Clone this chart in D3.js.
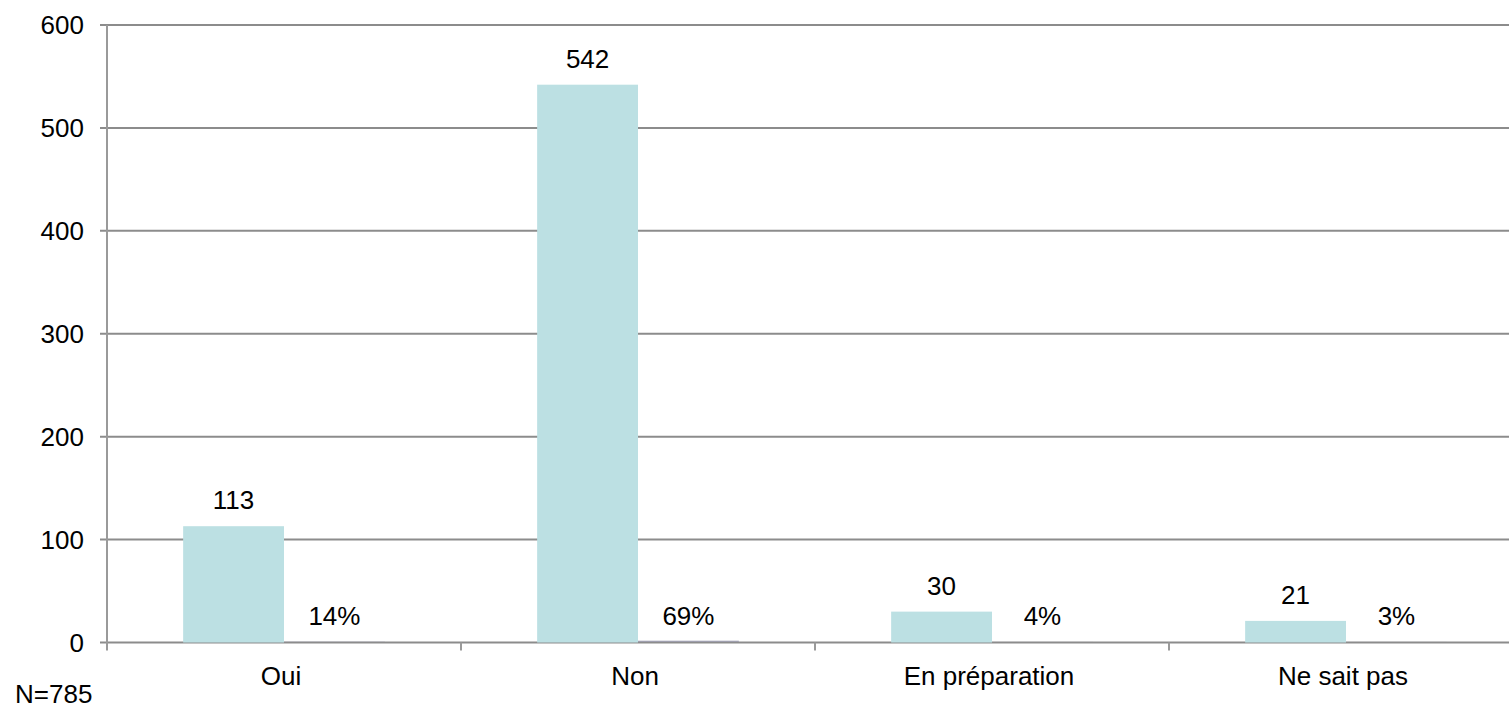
<!DOCTYPE html>
<html>
<head>
<meta charset="utf-8">
<script src="https://cdn.jsdelivr.net/npm/d3@7"></script>
<style>
  body { margin: 0; background: #fff; }
  svg { display: block; font-family: Arial, "Liberation Sans", sans-serif; }
</style>
</head>
<body>
<svg width="1509" height="709"></svg>
<script>
// Data
const categories = ["Oui", "Non", "En préparation", "Ne sait pas"];
const counts = [113, 542, 30, 21];
const shares = [0.14, 0.69, 0.04, 0.03];     // plotted as raw fractions on the count axis
const shareLabels = ["14%", "69%", "4%", "3%"];
const yTicks = [0, 100, 200, 300, 400, 500, 600];
const note = "N=785";

const svg = d3.select("svg");
const plotLeft = 107, plotRight = 1523, plotTop = 25, plotBottom = 642.5;
const fontSize = "26px";

const x = d3.scaleBand()
  .domain(categories)
  .range([plotLeft, plotRight])
  .paddingInner(0)
  .paddingOuter(0);

const sub = d3.scaleBand()
  .domain(["count", "share"])
  .range([0, x.bandwidth()])
  .paddingOuter(0.755)
  .paddingInner(0);

const y = d3.scaleLinear().domain([0, 600]).range([plotBottom, plotTop]);

// gridlines
svg.append("g")
  .selectAll("line")
  .data(yTicks)
  .join("line")
  .attr("x1", plotLeft - 7)
  .attr("x2", 1509)
  .attr("y1", d => y(d))
  .attr("y2", d => y(d))
  .attr("stroke", "#8c8c8c")
  .attr("stroke-width", 2);

// y axis line
svg.append("line")
  .attr("x1", plotLeft).attr("x2", plotLeft)
  .attr("y1", plotTop).attr("y2", plotBottom + 8)
  .attr("stroke", "#9a9a9a")
  .attr("stroke-width", 2);

// y tick labels
svg.append("g")
  .selectAll("text")
  .data(yTicks)
  .join("text")
  .attr("x", 84)
  .attr("y", d => y(d))
  .attr("dy", "0.35em")
  .attr("text-anchor", "end")
  .style("font-size", fontSize)
  .attr("fill", "#000")
  .text(d => d);

// category dividers
svg.append("g")
  .selectAll("line")
  .data(categories.slice(1))
  .join("line")
  .attr("x1", d => x(d))
  .attr("x2", d => x(d))
  .attr("y1", plotBottom)
  .attr("y2", plotBottom + 8)
  .attr("stroke", "#9a9a9a")
  .attr("stroke-width", 2);

// count bars
svg.append("g")
  .selectAll("rect")
  .data(categories)
  .join("rect")
  .attr("x", d => x(d) + sub("count"))
  .attr("width", sub.bandwidth())
  .attr("y", (d, i) => y(counts[i]))
  .attr("height", (d, i) => y(0) - y(counts[i]))
  .attr("fill", "#bce0e3");

// share bars (tiny)
svg.append("g")
  .selectAll("rect")
  .data(categories)
  .join("rect")
  .attr("x", d => x(d) + sub("share"))
  .attr("width", sub.bandwidth())
  .attr("y", (d, i) => y(shares[i]) - 1)
  .attr("height", (d, i) => y(0) - y(shares[i]))
  .attr("fill", "#7d7d99");

// count labels
svg.append("g")
  .selectAll("text")
  .data(categories)
  .join("text")
  .attr("x", d => x(d) + sub("count") + sub.bandwidth() / 2)
  .attr("y", (d, i) => y(counts[i]) - 17)
  .attr("text-anchor", "middle")
  .style("font-size", fontSize)
  .text((d, i) => counts[i]);

// share labels
svg.append("g")
  .selectAll("text")
  .data(categories)
  .join("text")
  .attr("x", d => x(d) + sub("share") + sub.bandwidth() / 2)
  .attr("y", (d, i) => y(shares[i]) - 17)
  .attr("text-anchor", "middle")
  .style("font-size", fontSize)
  .text((d, i) => shareLabels[i]);

// category labels
svg.append("g")
  .selectAll("text")
  .data(categories)
  .join("text")
  .attr("x", d => x(d) + x.bandwidth() / 2 - 3)
  .attr("y", 685)
  .attr("text-anchor", "middle")
  .style("font-size", fontSize)
  .text(d => d);

svg.append("text")
  .attr("x", 15)
  .attr("y", 703)
  .style("font-size", fontSize)
  .text(note);
</script>
</body>
</html>
